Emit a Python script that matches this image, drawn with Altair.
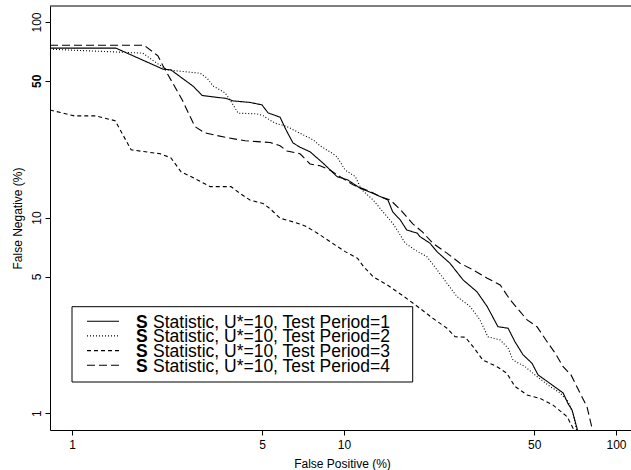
import altair as alt
import pandas as pd

# ---- data (False Positive %, False Negative %) ----
p1_fp = [0.83, 1.45, 2.16, 2.31, 2.79, 3.01, 3.30, 3.68, 3.91, 4.51, 4.99, 5.26, 5.82, 6.12, 6.49, 6.89, 7.50, 8.37, 9.43, 10.3,
         11.5, 12.8, 14.5, 15.1, 16.1, 17.0, 18.6, 19.0, 20.7, 22.0, 24.5, 27.4, 30.8, 33.6, 36.8, 40.1, 42.5, 45.5, 49.1, 51.7,
         57.2, 63.9, 66.6, 68.9, 72.5]
p1_fn = [73.5, 73.5, 57.4, 56.9, 46.9, 42.1, 41.4, 40.7, 39.5, 38.8, 37.7, 34.3, 32.6, 28.1, 24.1, 22.9, 21.7, 19.0, 16.2, 15.6,
         14.1, 13.3, 12.3, 10.7, 9.73, 8.65, 8.32, 8.00, 7.40, 6.68, 5.85, 4.80, 4.18, 3.51, 2.77, 2.72, 2.32, 1.99, 1.80, 1.57,
         1.42, 1.27, 1.12, 1.04, 0.80]

p2_fp = [0.83, 1.82, 2.05, 2.24, 2.96, 3.14, 3.30, 3.50, 3.65, 3.81, 4.08, 4.79, 5.04, 5.21, 5.58, 6.17, 6.89, 7.69, 8.16, 9.11,
         9.43, 10.1, 11.0, 11.6, 12.8, 13.9, 15.1, 15.8, 16.8, 18.2, 20.2, 22.0, 23.9, 26.0, 29.1, 31.6, 33.8, 37.5, 40.1, 41.8,
         46.3, 51.2, 57.2, 62.3, 66.6, 69.5, 71.9]
p2_fn = [72.6, 69.3, 61.6, 56.9, 54.7, 51.6, 47.1, 45.0, 43.4, 40.0, 34.2, 33.9, 33.2, 32.2, 30.4, 29.2, 27.0, 25.0, 23.3, 21.2,
         20.4, 17.5, 16.2, 13.9, 12.3, 10.7, 9.36, 8.48, 7.40, 6.84, 6.30, 5.40, 4.62, 3.95, 3.51, 3.00, 2.46, 2.37, 2.15, 1.87,
         1.73, 1.54, 1.37, 1.27, 1.15, 1.00, 0.80]

p3_fp = [0.83, 1.02, 1.22, 1.44, 1.65, 1.86, 2.11, 2.31, 2.52, 2.72, 3.22, 3.84, 4.18, 4.51, 5.04, 5.35, 5.82, 6.60, 7.19, 7.96,
         8.88, 10.1, 11.2, 11.8, 12.8, 14.4, 16.5, 19.0, 21.2, 23.9, 25.6, 27.9, 29.8, 32.4, 36.5, 39.7, 42.5, 47.1, 52.6, 58.7,
         66.1, 70.7]
p3_fn = [35.5, 33.1, 33.1, 31.3, 22.2, 21.7, 21.2, 20.2, 17.1, 16.3, 14.4, 14.4, 13.2, 12.3, 11.8, 11.1, 9.93, 9.45, 9.07, 8.35,
         7.54, 6.70, 6.20, 5.62, 4.99, 4.53, 3.98, 3.44, 3.06, 2.72, 2.46, 2.45, 2.19, 1.87, 1.73, 1.60, 1.37, 1.24, 1.19, 1.10,
         0.96, 0.80]

p4_fp = [0.83, 1.84, 2.07, 2.16, 2.54, 2.83, 3.08, 3.72, 4.33, 5.35, 5.82, 6.17, 6.89, 7.50, 8.16, 8.88, 9.67, 10.8, 11.2, 12.5,
         13.6, 14.8, 16.1, 17.9, 19.5, 21.2, 23.9, 26.7, 29.8, 33.6, 37.5, 40.8, 44.4, 47.1, 51.2, 55.8, 59.7, 63.9, 68.3, 73.7,
         78.2, 82.3]
p4_fn = [76.1, 76.1, 67.1, 59.7, 40.0, 29.2, 27.1, 25.6, 24.7, 24.2, 23.3, 21.9, 21.2, 18.8, 18.4, 17.5, 16.2, 14.7, 14.4, 13.6,
         12.8, 12.3, 11.0, 9.29, 8.40, 7.40, 6.58, 5.85, 5.40, 4.90, 4.53, 3.80, 3.31, 3.00, 2.77, 2.32, 2.03, 1.73, 1.57, 1.27,
         1.08, 0.80]

series_names = ["Test Period=1", "Test Period=2", "Test Period=3", "Test Period=4"]
legend_labels = ["Statistic, U*=10, Test Period=1", "Statistic, U*=10, Test Period=2",
                 "Statistic, U*=10, Test Period=3", "Statistic, U*=10, Test Period=4"]
dashes = [[1, 0], [1, 2], [4, 3], [8, 4]]
tick_vals = [1, 5, 10, 50, 100]

rows = []
for name, fps, fns in zip(series_names, [p1_fp, p2_fp, p3_fp, p4_fp], [p1_fn, p2_fn, p3_fn, p4_fn]):
    for i, (a, b) in enumerate(zip(fps, fns)):
        rows.append({"series": name, "fp": a, "fn": b, "ord": i})
df = pd.DataFrame(rows)

W, H = 581, 424
FONT = "Liberation Sans"

x_scale = alt.Scale(type="log", domain=[0.83, 113.5], nice=False)
y_scale = alt.Scale(type="log", domain=[0.821, 120.7], nice=False)

lines = alt.Chart(df).mark_line(clip=True, color="black", strokeWidth=1.1).encode(
    x=alt.X("fp:Q", scale=x_scale,
            axis=alt.Axis(values=tick_vals, format="d", title="False Positive (%)", grid=False,
                          domainColor="black", tickColor="black", tickSize=5, labelPadding=4,
                          labelFont=FONT, labelFontSize=12, labelColor="black",
                          titleFont=FONT, titleFontSize=12, titleFontWeight="normal", titleColor="black",
                          titleBaseline="alphabetic", titleY=37, titleX=292, labelFlush=False)),
    y=alt.Y("fn:Q", scale=y_scale,
            axis=alt.Axis(values=tick_vals, format="d", title="False Negative (%)", grid=False,
                          domainColor="black", tickColor="black", tickSize=5, labelPadding=5,
                          labelAngle=270, labelAlign="center", labelBaseline="alphabetic",
                          labelFontWeight=alt.expr("datum.value == 50 ? 'bold' : 'normal'"),
                          labelFont=FONT, labelFontSize=12, labelColor="black", labelFlush=False,
                          titleFont=FONT, titleFontSize=12, titleFontWeight="normal", titleColor="black",
                          titleAngle=270, titleBaseline="alphabetic", titleX=-29, titleY=212)),
    strokeDash=alt.StrokeDash("series:N", scale=alt.Scale(domain=series_names, range=dashes), legend=None),
    order="ord:Q",
)

top_line = alt.Chart(pd.DataFrame({"a": [0]})).mark_rule(color="black", strokeWidth=1).encode(
    x=alt.value(0), x2=alt.value(W), y=alt.value(0)
)

legend_box = alt.Chart(pd.DataFrame({"a": [0]})).mark_rect(fill="white", stroke="black", strokeWidth=1).encode(
    x=alt.value(22), x2=alt.value(362.7), y=alt.value(300.7), y2=alt.value(376)
)

layers = [lines, top_line, legend_box]
base_y = 321.5
step = 14.7
for i, (lab, d) in enumerate(zip(legend_labels, dashes)):
    yb = base_y + i * step
    layers.append(
        alt.Chart(pd.DataFrame({"a": [0]})).mark_rule(color="black", strokeWidth=1.1, strokeDash=d).encode(
            x=alt.value(37), x2=alt.value(69), y=alt.value(yb - 6.3))
    )
    layers.append(
        alt.Chart(pd.DataFrame({"t": ["S"]})).mark_text(
            font=FONT, fontSize=17.5, fontWeight="bold", align="left", baseline="alphabetic", color="black"
        ).encode(text="t:N", x=alt.value(86), y=alt.value(yb))
    )
    layers.append(
        alt.Chart(pd.DataFrame({"t": [lab]})).mark_text(
            font=FONT, fontSize=17.5, align="left", baseline="alphabetic", color="black"
        ).encode(text="t:N", x=alt.value(103), y=alt.value(yb))
    )

chart = alt.layer(*layers).properties(
    width=W, height=H,
    autosize=alt.AutoSizeParams(type="none"),
    padding={"left": 50, "top": 6, "right": 0, "bottom": 40},
    background="white",
).configure_view(stroke=None)

chart.save("out.html", embed_options={"renderer": "svg", "actions": False})
